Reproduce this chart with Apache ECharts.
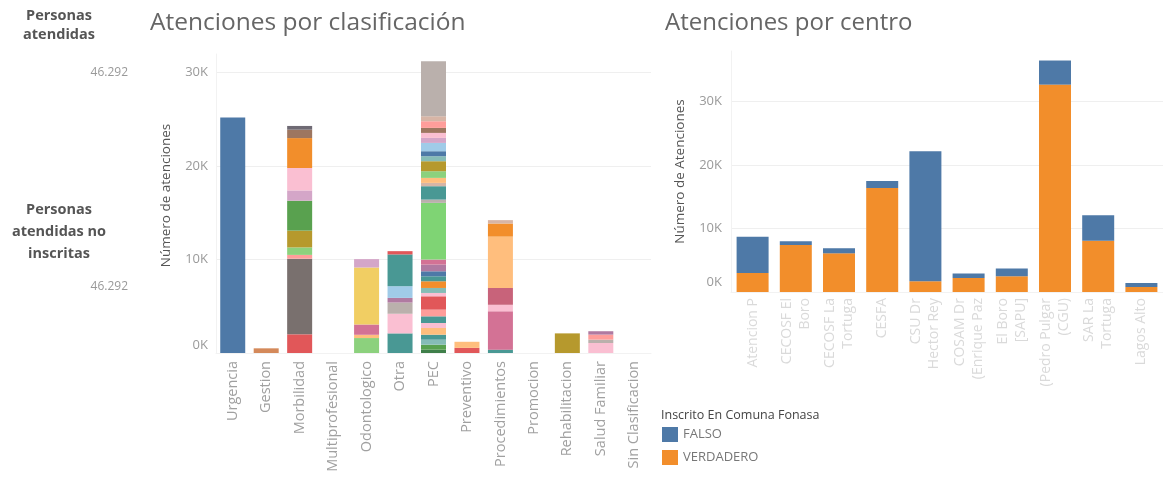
<!DOCTYPE html>
<html><head><meta charset="utf-8">
<script src="https://cdn.jsdelivr.net/npm/echarts@6/dist/echarts.min.js"></script>
<style>html,body{margin:0;padding:0;background:#fff}#c{width:1163px;height:482px}</style>
</head><body><div id="c"></div><script>
// ---------------- DATA ----------------
const personasAtendidas = '46.292';
const personasNoInscritas = '46.292';

const clasificaciones = ['Urgencia','Gestion','Morbilidad','Multiprofesional','Odontologico','Otra','PEC','Preventivo','Procedimientos','Promocion','Rehabilitacion','Salud Familiar','Sin Clasificacion'];
// stacked segment values per clasificación, bottom to top
const urgencia = [25200];
const gestion = [500];
const morbilidad = [2000, 8100, 400, 800, 1800, 3200, 1100, 2400, 3200, 900, 400];
const multiprofesional = [];
const odontologico = [1600, 350, 1100, 6100, 900];
const otra = [2100, 2100, 1200, 500, 1250, 3400, 350];
const pec = [355, 535, 535, 535, 715, 535, 715, 715, 1430, 355, 535, 715, 535, 535, 715, 535, 6070, 355, 1430, 355, 535, 715, 1070, 535, 535, 890, 535, 535, 535, 715, 535, 5890];
const preventivo = [550, 650];
const procedimientos = [360, 4100, 700, 1800, 5500, 1400, 360];
const promocion = [];
const rehabilitacion = [2100];
const saludFamiliar = [1070, 360, 540, 360];
const sinClasificacion = [];

const centros = ['Atencion P', 'CECOSF El\nBoro', 'CECOSF La\nTortuga', 'CESFA', 'CSU Dr\nHector Rey', 'COSAM Dr\n(Enrique Paz', 'El Boro\n[SAPU]', '(Pedro Pulgar\n(CGU)', 'SAR La\nTortuga', 'Lagos Alto'];
const verdadero = [3000, 7400, 6100, 16400, 1700, 2200, 2500, 32700, 8100, 800];
const falso = [5700, 600, 800, 1100, 20500, 700, 1200, 3800, 4000, 600];

// ---------------- STYLES ----------------
const T = {blue:'#4e79a7', lblue:'#a0cbe8', orange:'#f28e2b', lorange:'#ffbe7d', green:'#59a14f', lgreen:'#8cd17d', olive:'#b6992d', yellow:'#f1ce63', teal:'#499894', lteal:'#86bcb6', red:'#e15759', pink:'#ff9d9a', gray:'#79706e', lgray:'#bab0ac', magenta:'#d37295', lpink:'#fabfd2', purple:'#b07aa1', lilac:'#d4a6c8', brown:'#9d7660', tan:'#d7b5a6'};
const segColors = [
  [T.blue],
  ['#d4895a'],
  [T.red, T.gray, T.pink, T.lgreen, T.olive, T.green, T.lilac, T.lpink, T.orange, T.brown, '#6f6a74'],
  [],
  [T.lgreen, T.lorange, T.magenta, T.yellow, T.lilac],
  [T.teal, T.lpink, T.lgray, T.purple, T.lblue, T.teal, T.red],
  ['#3f7f4a', T.green, T.lteal, T.teal, T.lorange, T.lpink, T.teal, T.pink, T.red, T.lpink, T.lteal, T.orange, T.teal, T.blue, T.purple, T.magenta, '#7fd474', T.lgray, T.teal, T.tan, T.lorange, T.lgreen, T.olive, T.lteal, T.blue, T.lblue, T.lilac, T.lpink, T.brown, T.pink, T.tan, T.lgray],
  [T.red, T.lorange],
  [T.teal, T.magenta, T.lpink, '#c8637a', T.lorange, T.orange, T.tan],
  [],
  [T.olive],
  [T.lpink, T.lgray, T.pink, T.purple],
  []
];
const segValues = [urgencia, gestion, morbilidad, multiprofesional, odontologico, otra, pec, preventivo, procedimientos, promocion, rehabilitacion, saludFamiliar, sinClasificacion];

const FONT = 'Open Sans';
const series = [];
segValues.forEach((segs, ci) => {
  segs.forEach((v, si) => {
    const data = clasificaciones.map((_, k) => k === ci ? v : '-');
    series.push({type:'bar', stack:'clas', xAxisIndex:0, yAxisIndex:0, barWidth:25, silent:true,
      data, itemStyle:{color: segColors[ci][si]}});
  });
});
series.push({name:'VERDADERO', type:'bar', stack:'centro', xAxisIndex:1, yAxisIndex:1, barWidth:32, data: verdadero, itemStyle:{color:T.orange}});
series.push({name:'FALSO', type:'bar', stack:'centro', xAxisIndex:1, yAxisIndex:1, barWidth:32, data: falso, itemStyle:{color:T.blue}});

const kfmt = v => v === 0 ? '{z|0K}' : (v/1000) + 'K';

const chart = echarts.init(document.getElementById('c'), null, {renderer:'canvas'});
chart.setOption({
  animation:false,
  textStyle:{fontFamily:FONT},
  title:[
    {text:'Personas\natendidas', left:54, top:1, textAlign:'center', textStyle:{fontFamily:FONT, fontSize:14.5, fontWeight:'bold', color:'#555', lineHeight:19.5}},
    {text:personasAtendidas, left:123, top:62, textAlign:'right', textStyle:{fontFamily:FONT, fontSize:12, fontWeight:'normal', color:'#999'}},
    {text:'Personas\natendidas no\ninscritas', left:54, top:194, textAlign:'center', textStyle:{fontFamily:FONT, fontSize:14.5, fontWeight:'bold', color:'#555', lineHeight:22}},
    {text:personasNoInscritas, left:123, top:276, textAlign:'right', textStyle:{fontFamily:FONT, fontSize:12, fontWeight:'normal', color:'#999'}},
    {text:'Atenciones por clasificación', left:145, top:6, textStyle:{fontFamily:FONT, fontSize:24.5, fontWeight:'normal', color:'#666'}},
    {text:'Atenciones por centro', left:660, top:6, textStyle:{fontFamily:FONT, fontSize:24, fontWeight:'normal', color:'#666'}},
    {text:'Inscrito En Comuna Fonasa', left:656, top:404, textStyle:{fontFamily:FONT, fontSize:12.5, fontWeight:'normal', color:'#444'}}
  ],
  legend:{data:['FALSO','VERDADERO'], orient:'vertical', left:657, top:422, itemWidth:16, itemHeight:15, itemGap:8, icon:'rect', selectedMode:false,
    textStyle:{fontFamily:FONT, fontSize:13, color:'#777'}},
  grid:[
    {left:216, top:54, width:435, height:299, containLabel:false},
    {left:731, top:51, width:443, height:241, containLabel:false}
  ],
  xAxis:[
    {type:'category', gridIndex:0, data:clasificaciones, axisTick:{show:false}, axisLine:{show:true, lineStyle:{color:'#f2f2f2'}},
      axisLabel:{rotate:90, margin:8, color:'#a0a0a0', fontSize:14.5, fontFamily:FONT, interval:0}},
    {type:'category', gridIndex:1, data:centros, axisTick:{show:false}, axisLine:{show:true, lineStyle:{color:'#f2f2f2'}},
      axisLabel:{rotate:90, margin:6, color:'#dadada', fontSize:14, fontFamily:FONT, interval:0, lineHeight:18}}
  ],
  yAxis:[
    {type:'value', gridIndex:0, min:0, max:32000, interval:10000, name:'Número de atenciones', nameLocation:'middle', nameGap:43, nameRotate:90,
      nameTextStyle:{fontFamily:FONT, fontSize:13.5, color:'#555', padding:[0,0,0,16]},
      axisLine:{show:true, lineStyle:{color:'#f2f2f2'}}, axisTick:{show:false},
      splitLine:{show:true, showMaxLine:false, lineStyle:{color:'#efefef'}},
      axisLabel:{margin:8, color:'#9a9a9a', fontSize:13, fontFamily:FONT, showMaxLabel:false, formatter:kfmt, rich:{z:{padding:[0,0,16,0], color:'#9a9a9a', fontSize:13, fontFamily:FONT}}}},
    {type:'value', gridIndex:1, min:0, max:38000, interval:10000, name:'Número de Atenciones', nameLocation:'middle', nameGap:44, nameRotate:90,
      nameTextStyle:{fontFamily:FONT, fontSize:13.5, color:'#555'},
      axisLine:{show:true, lineStyle:{color:'#f2f2f2'}}, axisTick:{show:false},
      splitLine:{show:true, showMaxLine:false, lineStyle:{color:'#efefef'}},
      axisLabel:{margin:9, color:'#9a9a9a', fontSize:13, fontFamily:FONT, showMaxLabel:false, formatter:kfmt, rich:{z:{padding:[0,0,20,0], color:'#9a9a9a', fontSize:13, fontFamily:FONT}}}}
  ],
  series
});
</script></body></html>
